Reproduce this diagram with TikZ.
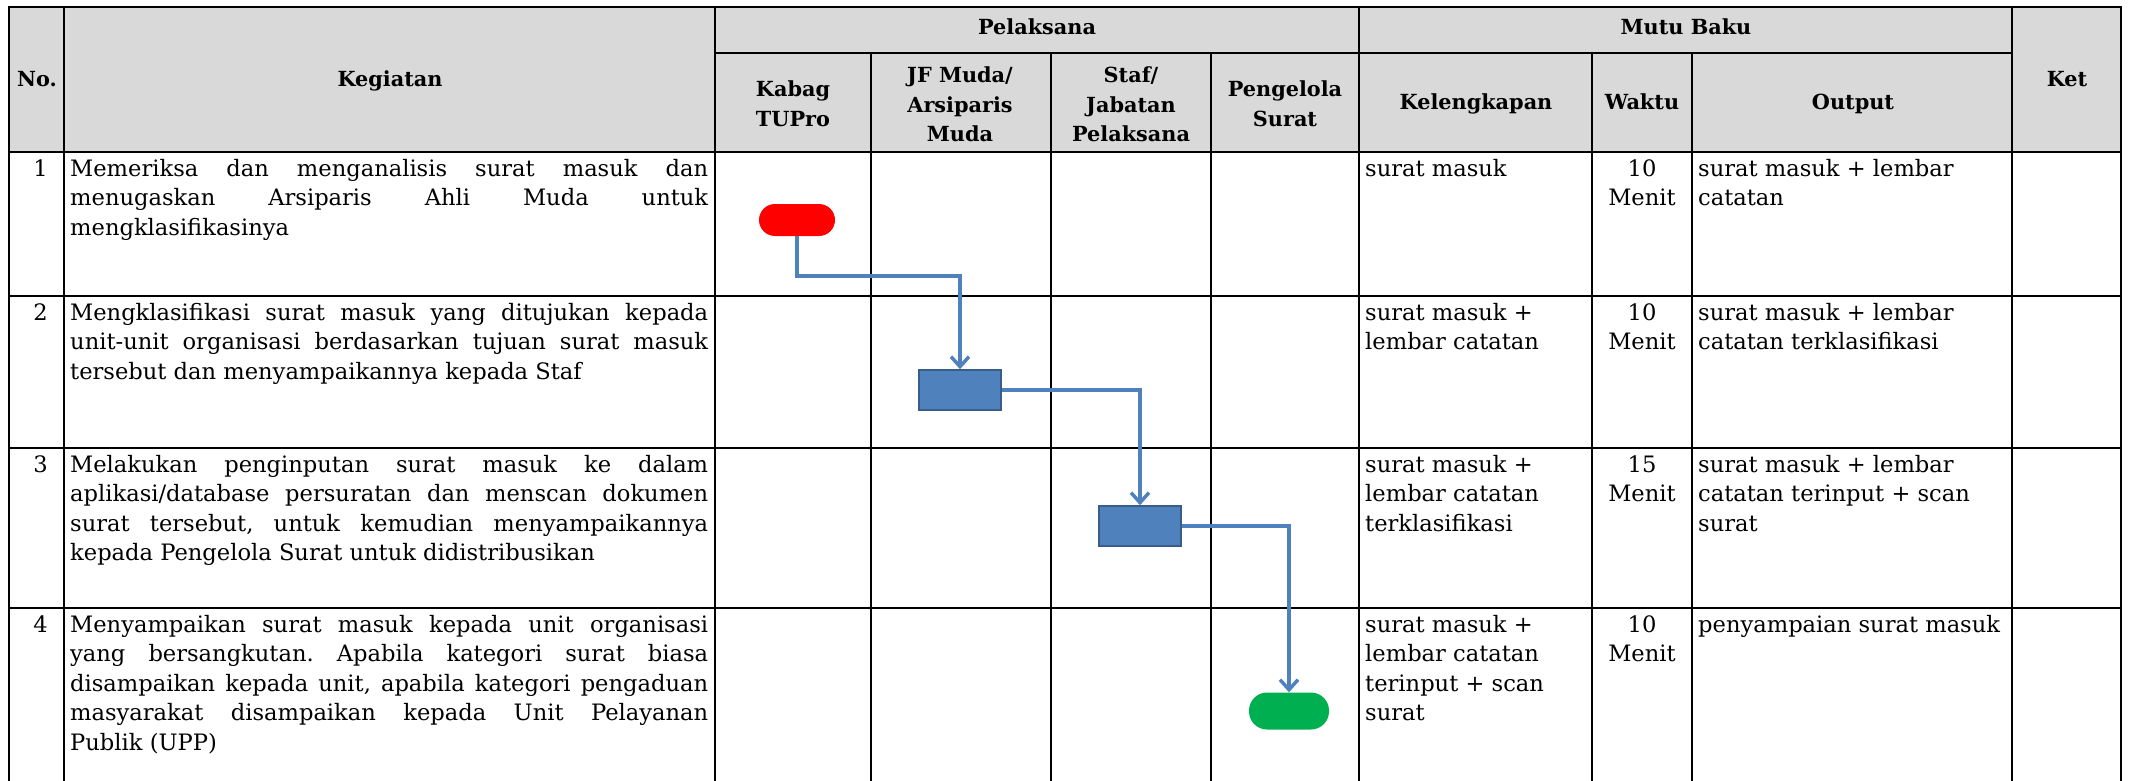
\documentclass[tikz,border=0pt]{standalone}
\usepackage{fontspec}
\setmainfont{DejaVu Serif}
\usetikzlibrary{arrows.meta}
\definecolor{hdr}{HTML}{D9D9D9}
\definecolor{flowline}{HTML}{4F81BD}
\definecolor{boxfill}{HTML}{4F81BD}
\definecolor{boxdraw}{HTML}{385D8A}
\definecolor{startred}{HTML}{FF0000}
\definecolor{endgreen}{HTML}{00B050}
\newcommand\bodyfont{\fontsize{22.6}{29.5}\selectfont\frenchspacing}
\newcommand\headfont{\fontsize{20.8}{29.5}\selectfont\bfseries}
\newcommand\jl[1]{\hbox to 638pt{#1}}
\newcommand\pl[1]{\hbox{#1}}
\newcommand\cl[1]{\hbox to 96pt{\hfil#1\hfil}}
\newcommand\hlines[1]{\vtop{\halign{\hfil##\hfil\cr#1\crcr}}}
\tikzset{
  grid/.style={line width=2.5pt, black, line cap=rect},
  txt/.style={anchor=base west, inner sep=0pt, font=\bodyfont},
  numtxt/.style={anchor=base east, inner sep=0pt, font=\bodyfont},
  ctxt/.style={anchor=base, inner sep=0pt, font=\bodyfont},
  head/.style={anchor=base, inner sep=0pt, font=\headfont},
  term/.style={rectangle, rounded corners=16pt, minimum width=76pt, minimum height=32pt, inner sep=0pt, draw=none},
  proc/.style={rectangle, minimum width=82pt, minimum height=40pt, inner sep=0pt, fill=boxfill, draw=boxdraw, line width=1.5pt},
  flow/.style={line width=3.5pt, flowline, -{Straight Barb[length=10pt,width=18pt,line width=3.5pt]}},
}
\begin{document}
\begin{tikzpicture}[x=1pt,y=-1pt]
\useasboundingbox (0,0) rectangle (2129,781);
% header background
\fill[hdr] (9,7) rectangle (2121,152);
% grid
\draw[grid] (9,7) -- (2121,7);
\draw[grid] (715,53) -- (2012,53);
\foreach \yy in {152,296,448,608} { \draw[grid] (9,\yy) -- (2121,\yy); }
\foreach \xx in {9,64,715,1359,2012,2121} { \draw[grid] (\xx,7) -- (\xx,781); }
\foreach \xx in {871,1051,1211,1592,1692} { \draw[grid] (\xx,53) -- (\xx,781); }
% headers
\node[head] (hno) at (37,86.7) {No.};
\node[head] (hkeg) at (390,86.7) {Kegiatan};
\node[head] (hpel) at (1037,35) {Pelaksana};
\node[head] (hmutu) at (1686,35) {Mutu Baku};
\node[head] (hket) at (2067,86.7) {Ket};
\node[head] (hkabag) at (793,96.7) {\hlines{Kabag\cr TUPro}};
\node[head] (hjf) at (960,83) {\hlines{JF Muda/\cr Arsiparis\cr Muda}};
\node[head] (hstaf) at (1131,83) {\hlines{Staf/\cr Jabatan\cr Pelaksana}};
\node[head] (hpeng) at (1285,96.7) {\hlines{Pengelola\cr Surat}};
\node[head] (hkel) at (1476,110) {Kelengkapan};
\node[head] (hwak) at (1642,110) {Waktu};
\node[head] (hout) at (1853,110) {Output};
% row 1
\node[numtxt] (n1) at (48,176) {1};
\node[txt] (k1) at (70,176) {\vtop{\jl{Memeriksa dan menganalisis surat masuk dan}\jl{menugaskan Arsiparis Ahli Muda untuk}\pl{mengklasifikasinya}}};
\node[txt] (l1) at (1365,176) {\vtop{\pl{surat masuk}}};
\node[ctxt] (w1) at (1642,176) {\vtop{\cl{10}\cl{Menit}}};
\node[txt] (o1) at (1698,176) {\vtop{\pl{surat masuk + lembar}\pl{catatan}}};
% row 2
\node[numtxt] (n2) at (48,320) {2};
\node[txt] (k2) at (70,320) {\vtop{\jl{Mengklasifikasi surat masuk yang ditujukan kepada}\jl{unit-unit organisasi berdasarkan tujuan surat masuk}\pl{tersebut dan menyampaikannya kepada Staf}}};
\node[txt] (l2) at (1365,320) {\vtop{\pl{surat masuk +}\pl{lembar catatan}}};
\node[ctxt] (w2) at (1642,320) {\vtop{\cl{10}\cl{Menit}}};
\node[txt] (o2) at (1698,320) {\vtop{\pl{surat masuk + lembar}\pl{catatan terklasifikasi}}};
% row 3
\node[numtxt] (n3) at (48,472) {3};
\node[txt] (k3) at (70,472) {\vtop{\jl{Melakukan penginputan surat masuk ke dalam}\jl{aplikasi/database persuratan dan menscan dokumen}\jl{surat tersebut, untuk kemudian menyampaikannya}\pl{kepada Pengelola Surat untuk didistribusikan}}};
\node[txt] (l3) at (1365,472) {\vtop{\pl{surat masuk +}\pl{lembar catatan}\pl{terklasifikasi}}};
\node[ctxt] (w3) at (1642,472) {\vtop{\cl{15}\cl{Menit}}};
\node[txt] (o3) at (1698,472) {\vtop{\pl{surat masuk + lembar}\pl{catatan terinput + scan}\pl{surat}}};
% row 4
\node[numtxt] (n4) at (48,632) {4};
\node[txt] (k4) at (70,632) {\vtop{\jl{Menyampaikan surat masuk kepada unit organisasi}\jl{yang bersangkutan. Apabila kategori surat biasa}\jl{disampaikan kepada unit, apabila kategori pengaduan}\jl{masyarakat disampaikan kepada Unit Pelayanan}\pl{Publik (UPP)}}};
\node[txt] (l4) at (1365,632) {\vtop{\pl{surat masuk +}\pl{lembar catatan}\pl{terinput + scan}\pl{surat}}};
\node[ctxt] (w4) at (1642,632) {\vtop{\cl{10}\cl{Menit}}};
\node[txt] (o4) at (1698,632) {\vtop{\pl{penyampaian surat masuk}}};
% flow
\node[term, fill=startred] (start) at (797,220) {};
\node[proc] (p1) at (960,390) {};
\node[proc] (p2) at (1140,526) {};
\node[term, fill=endgreen, minimum width=80pt, minimum height=37pt, rounded corners=18pt] (stop) at (1289,711) {};
\coordinate (bend1) at (797,276);
\draw[flow] (start.south) -- (bend1) -| (p1.north);
\draw[flow] (p1.east) -| (p2.north);
\draw[flow] (p2.east) -| (stop.north);
\end{tikzpicture}
\end{document}
